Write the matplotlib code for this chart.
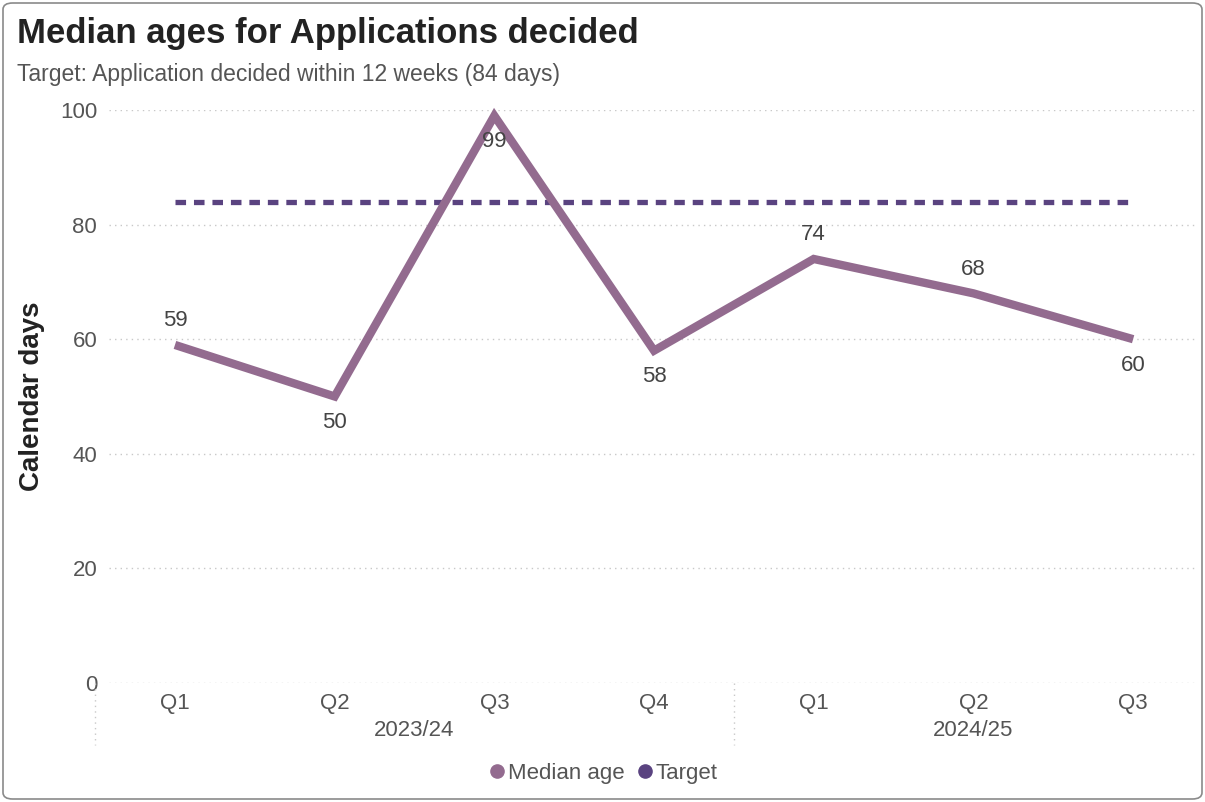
import matplotlib
matplotlib.use("Agg")
import matplotlib.pyplot as plt
from matplotlib.patches import FancyBboxPatch
from matplotlib.lines import Line2D
from matplotlib.transforms import blended_transform_factory

quarters = ["Q1", "Q2", "Q3", "Q4", "Q1", "Q2", "Q3"]
years = ["2023/24", "2024/25"]
year_groups = [[0, 1, 2, 3], [4, 5, 6]]
median_age = [59, 50, 99, 58, 74, 68, 60]
target = [84, 84, 84, 84, 84, 84, 84]
label_above = [True, False, False, False, True, True, False]
y_ticks = [0, 20, 40, 60, 80, 100]

LINE_COLOR = "#936B8F"
TARGET_COLOR = "#5A4380"
TEXT_COLOR = "#555555"
FONT = ["Liberation Sans", "DejaVu Sans"]
FS = 16

plt.rcParams["font.family"] = FONT

W, H = 1205, 802
fig = plt.figure(figsize=(W / 100, H / 100), dpi=100)

# rounded card border
fig.patches.append(FancyBboxPatch((3 / W, 3 / H), (W - 6) / W, (H - 6) / H,
                                  boxstyle="round,pad=0,rounding_size=0.008",
                                  transform=fig.transFigure, facecolor="white",
                                  edgecolor="#8a8a8a", linewidth=1.2, zorder=-1))

left, right, top, bottom = 109, 1197, 110, 683
ax = fig.add_axes([left / W, (H - bottom) / H, (right - left) / W, (bottom - top) / H])
ax.set_facecolor("none")

x = list(range(len(quarters)))
ax.plot(x, target, color=TARGET_COLOR, linewidth=3.8, linestyle=(0, (2.0, 1.5)),
        solid_capstyle="butt", dash_capstyle="butt", zorder=2)
ax.plot(x, median_age, color=LINE_COLOR, linewidth=6, solid_joinstyle="miter",
        solid_capstyle="butt", zorder=3, clip_on=False)

for xi, v, above in zip(x, median_age, label_above):
    off = 24 if above else -26
    ax.annotate(str(v), (xi, v), xytext=(0, off), textcoords="offset pixels",
                ha="center", va="center", fontsize=FS, color="#444444", zorder=4)

ax.set_xlim(-0.413, 6.40)
ax.set_ylim(0, 100)
ax.set_yticks(y_ticks)
ax.set_yticklabels([str(t) for t in y_ticks], fontsize=FS, color=TEXT_COLOR)
ax.set_xticks(x)
ax.set_xticklabels(quarters, fontsize=FS, color=TEXT_COLOR)
ax.tick_params(axis="both", length=0)
ax.tick_params(axis="y", pad=8.5)
ax.tick_params(axis="x", pad=7)
for s in ax.spines.values():
    s.set_visible(False)
ax.grid(axis="y", color="#c8c8c8", linestyle=(0, (1, 3)), linewidth=1)
ax.set_axisbelow(True)

ax.set_ylabel("Calendar days", fontsize=20, fontweight="bold", color="#222222", labelpad=11)

# year group labels and separators below the quarter ticks
trans = blended_transform_factory(ax.transData, ax.transAxes)
for name, grp in zip(years, year_groups):
    cx = (grp[0] + grp[-1]) / 2
    ax.text(cx, -47 / (bottom - top), name, transform=trans, ha="center", va="center",
            fontsize=FS, color=TEXT_COLOR)
for sep in [year_groups[0][0] - 0.5, year_groups[1][0] - 0.5]:
    ax.add_line(Line2D([sep, sep], [0, -62 / (bottom - top)], transform=trans,
                       color="#c8c8c8", linestyle=(0, (1, 3)), linewidth=1, clip_on=False))

fig.text(17 / W, 1 - 34 / H, "Median ages for Applications decided", fontsize=25,
         fontweight="bold", color="#222222", ha="left", va="center")
fig.text(17 / W, 1 - 75 / H, "Target: Application decided within 12 weeks (84 days)",
         fontsize=16.5, color=TEXT_COLOR, ha="left", va="center")

handles = [Line2D([], [], marker="o", linestyle="none", markersize=9.5, color=LINE_COLOR),
           Line2D([], [], marker="o", linestyle="none", markersize=9.5, color=TARGET_COLOR)]
fig.legend(handles, ["Median age", "Target"], loc="center", bbox_to_anchor=(602 / W, 1 - 773 / H),
           ncol=2, frameon=False, fontsize=FS, labelcolor=TEXT_COLOR, handletextpad=0.0,
           columnspacing=0.4, handlelength=1.0)

fig.savefig("out.png", dpi=100)
